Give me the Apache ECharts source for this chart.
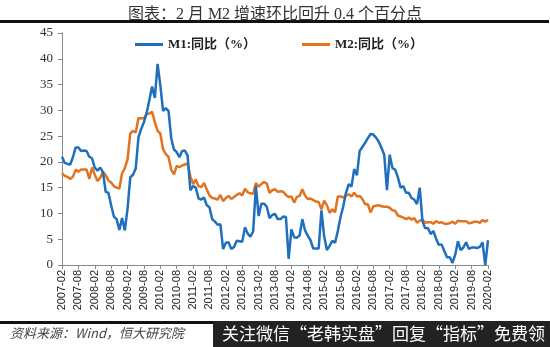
<!DOCTYPE html>
<html><head><meta charset="utf-8">
<script src="https://cdn.jsdelivr.net/npm/echarts@6/dist/echarts.min.js"></script>
<style>html,body{margin:0;padding:0;background:#fff}#c{width:550px;height:347px}</style>
</head><body><div id="c"></div>
<script>
const titleText = '图表：2 月 M2 增速环比回升 0.4 个百分点';
const sourceText = '资料来源：Wind，恒大研究院';
const watermarkText = '关注微信“老韩实盘”回复“指标”免费领';
const seriesNames = ['M1:同比（%）', 'M2:同比（%）'];
const startYear = 2007, startMonth = 2, monthCount = 157;
const months = [];
for (let i = 0; i < monthCount; i++) {
  const m = startMonth - 1 + i;
  const y = startYear + Math.floor(m / 12);
  const mm = (m % 12) + 1;
  months.push(y + '-' + (mm < 10 ? '0' + mm : mm));
}
const m1 = [
  21.0, 19.8, 19.6, 19.5, 20.9, 22.8, 22.8, 22.1, 22.2, 22.1, 21.0,
  20.7, 18.9, 18.3, 18.9, 18.0, 14.2, 14.0, 11.6, 9.4, 8.9, 6.8, 9.1,
  6.7, 10.9, 17.0, 17.5, 18.7, 24.8, 26.4, 27.7, 29.5, 32.0, 34.6, 32.4,
  39.0, 34.9, 29.9, 30.4, 29.9, 24.6, 22.4, 21.9, 20.9, 22.1, 22.2, 21.2,
  14.5, 15.3, 15.0, 12.9, 12.7, 13.1, 11.6, 11.2, 8.9, 8.4, 7.8, 7.9,
  3.1, 4.3, 4.4, 3.1, 3.5, 4.7, 4.6, 4.5, 7.3, 6.1, 5.5, 6.5,
  15.3, 9.5, 11.9, 11.9, 11.3, 9.1, 9.7, 9.9, 8.9, 8.9, 9.4, 9.3,
  1.2, 6.9, 5.4, 5.3, 5.7, 8.9, 6.7, 5.7, 4.8, 3.2, 3.2, 3.2,
  10.6, 5.6, 2.9, 3.7, 4.7, 4.3, 6.6, 9.3, 11.4, 14.0, 15.7, 15.2,
  18.6, 17.4, 22.1, 22.9, 23.7, 24.6, 25.4, 25.3, 24.7, 23.9, 22.7, 21.4,
  14.5, 21.4, 18.8, 18.5, 17.0, 15.0, 15.3, 14.0, 14.0, 13.0, 12.7, 11.8,
  15.0, 8.5, 7.1, 7.2, 6.0, 6.6, 5.1, 3.9, 4.0, 2.7, 1.5, 1.5,
  0.4, 2.0, 4.6, 2.9, 3.4, 4.4, 3.1, 3.4, 3.4, 3.3, 3.5, 4.4,
  0.0, 4.8
];
const m2 = [
  17.8, 17.3, 17.1, 16.7, 17.1, 18.5, 18.1, 18.5, 18.5, 18.5, 16.7,
  18.9, 17.5, 16.3, 16.9, 18.1, 17.4, 16.4, 16.0, 15.3, 15.0, 14.8, 17.8,
  18.8, 20.5, 25.5, 26.0, 25.7, 28.5, 28.4, 28.5, 29.3, 29.4, 29.7, 27.7,
  26.0, 25.5, 22.5, 21.5, 21.0, 18.5, 17.6, 19.2, 19.0, 19.3, 19.5, 19.7,
  17.2, 15.7, 16.6, 15.3, 15.1, 15.9, 14.7, 13.5, 13.0, 12.9, 12.7, 13.6,
  12.4, 13.0, 13.4, 12.8, 13.2, 13.6, 13.9, 13.5, 14.8, 14.1, 13.9, 13.8,
  15.9, 15.2, 15.7, 16.1, 15.8, 14.0, 14.5, 14.7, 14.2, 14.3, 14.2, 13.6,
  13.2, 13.3, 12.1, 13.2, 13.4, 14.7, 13.5, 12.8, 12.9, 12.6, 12.3, 12.2,
  10.8, 12.5, 11.6, 10.1, 10.8, 10.2, 13.3, 13.3, 13.1, 13.5, 13.7, 13.3,
  14.0, 13.3, 13.4, 12.8, 11.8, 11.8, 10.2, 11.4, 11.5, 11.6, 11.4, 11.3,
  11.3, 11.1, 10.6, 10.5, 9.6, 9.4, 9.2, 8.9, 9.2, 8.8, 9.1, 8.2,
  8.6, 8.8, 8.2, 8.3, 8.3, 8.0, 8.5, 8.2, 8.3, 8.0, 8.0, 8.1,
  8.4, 8.0, 8.6, 8.5, 8.5, 8.5, 8.1, 8.2, 8.4, 8.4, 8.2, 8.7,
  8.4, 8.8
];
const yMin = 0, yMax = 45, yStep = 5;
const colors = ['#1f6fbd', '#e2731f'];

const serif = "'Liberation Serif','DejaVu Serif','Noto Sans CJK SC',serif";
const chart = echarts.init(document.getElementById('c'), null, {renderer: 'canvas'});
chart.setOption({
  backgroundColor: '#fff',
  animation: false,
  color: colors,
  title: {
    text: titleText, left: 'center', top: 2,
    textStyle: {fontSize: 16, fontWeight: 'normal', color: '#333', fontFamily: serif}
  },
  graphic: [
    {type: 'rect', shape: {x: 0, y: 20, width: 549, height: 3}, style: {fill: '#111'}},
    {type: 'rect', shape: {x: 0, y: 321, width: 215, height: 3}, style: {fill: '#111'}},
    {type: 'rect', shape: {x: 213, y: 321, width: 337, height: 26}, style: {fill: '#222'}},
    {type: 'text', left: 10, top: 327, style: {text: sourceText, fill: '#444', font: "italic 13px 'Noto Sans CJK SC'"}},
    {type: 'text', left: 222, top: 325, style: {text: watermarkText, fill: '#fff', font: "17px 'Noto Sans CJK SC'"}}
  ],
  legend: [
    {data: [seriesNames[0]], left: 130, top: 33, icon: 'rect', itemWidth: 28, itemHeight: 3,
     textStyle: {fontSize: 13, fontWeight: 'bold', color: '#222', fontFamily: serif}},
    {data: [seriesNames[1]], left: 297, top: 33, icon: 'rect', itemWidth: 28, itemHeight: 3,
     textStyle: {fontSize: 13, fontWeight: 'bold', color: '#222', fontFamily: serif}}
  ],
  grid: {left: 62, right: 62, top: 33, bottom: 82},
  xAxis: {
    type: 'category', data: months, boundaryGap: false,
    axisLine: {lineStyle: {color: '#888', width: 1}},
    axisTick: {interval: 5, length: 4, lineStyle: {color: '#888'}},
    axisLabel: {interval: 5, rotate: 90, fontSize: 11, color: '#222', margin: 5,
      fontFamily: "'Liberation Sans',Arial,sans-serif"},
    splitLine: {show: false}
  },
  yAxis: {
    type: 'value', min: yMin, max: yMax, interval: yStep,
    axisLine: {show: true, lineStyle: {color: '#888', width: 1}},
    axisTick: {show: true, length: 4, lineStyle: {color: '#888'}},
    axisLabel: {fontSize: 13, color: '#333', margin: 9, fontFamily: serif},
    splitLine: {show: false}
  },
  series: [
    {name: seriesNames[0], type: 'line', data: m1, showSymbol: false, symbol: 'none',
     lineStyle: {width: 2.5, color: colors[0]}, itemStyle: {color: colors[0]}, z: 3},
    {name: seriesNames[1], type: 'line', data: m2, showSymbol: false, symbol: 'none',
     lineStyle: {width: 2.5, color: colors[1]}, itemStyle: {color: colors[1]}, z: 2}
  ]
});
</script></body></html>
